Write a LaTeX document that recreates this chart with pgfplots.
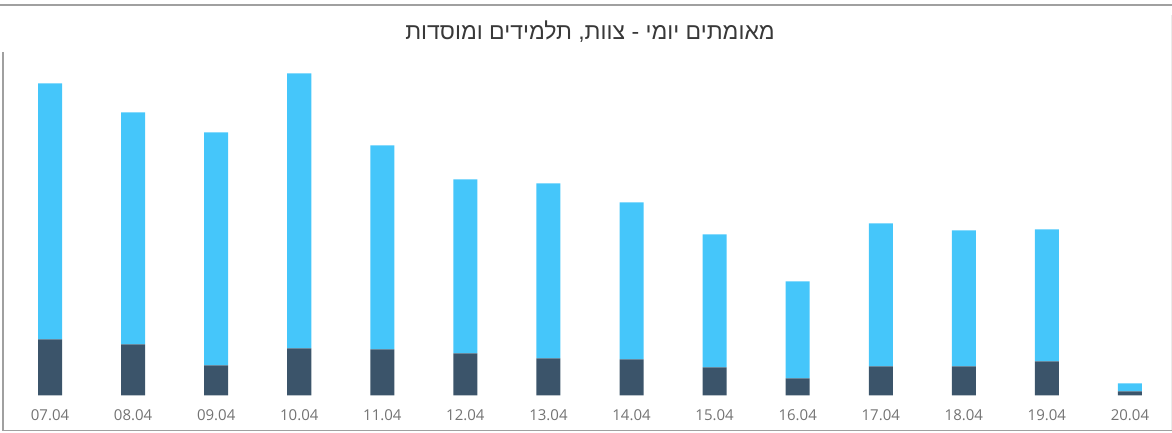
\documentclass[border=0pt]{standalone}
\usepackage{fontspec}
\setmainfont{Open Sans}
\newfontfamily\hebfont[Script=Hebrew]{Liberation Sans}
\TeXXeTstate=1
\usepackage{pgfplots}
\pgfplotsset{compat=1.18}
\definecolor{lightbar}{RGB}{69,198,250}
\definecolor{darkbar}{RGB}{59,84,106}
\definecolor{framegray}{RGB}{160,160,160}
\begin{document}
\begin{tikzpicture}
\useasboundingbox (0pt,0pt) rectangle (1172pt,433pt);
\draw[framegray, line width=2.4pt] (0pt,428pt) -- (1172pt,428pt);
\draw[framegray, line width=1.4pt] (3pt,381pt) -- (3pt,2.5pt) -- (1172pt,2.5pt);
\draw[black!8, line width=1pt] (1171pt,418pt) -- (1171pt,3pt);
\node[font=\hebfont\fontsize{23}{26}\selectfont, text=black!78] at (590pt,401pt) {\beginR מאומתים יומי - צוות, תלמידים ומוסדות\endR};
\begin{axis}[
  at={(8.5pt,37.5pt)}, anchor=south west,
  scale only axis, width=1163pt, height=344pt,
  ymin=0, ymax=344, xmin=-0.5, xmax=13.5,
  enlargelimits=false,
  ybar stacked, bar width=24pt,
  hide y axis,
  axis x line*=bottom, x axis line style={draw=none},
  major tick length=0pt,
  xtick=data,
  xticklabels={07.04,08.04,09.04,10.04,11.04,12.04,13.04,14.04,15.04,16.04,17.04,18.04,19.04,20.04},
  xticklabel style={font=\fontsize{15}{17}\selectfont, text=black!55, yshift=-11pt},
  clip=false,
]
\addplot[fill=darkbar, draw=none] coordinates {
(0,56) (1,51) (2,30) (3,47) (4,46) (5,42) (6,37) (7,36) (8,28) (9,17) (10,29) (11,29) (12,34) (13,4)};
\addplot[fill=lightbar, draw=none] coordinates {
(0,256) (1,232) (2,233) (3,275) (4,204) (5,174) (6,175) (7,157) (8,133) (9,97) (10,143) (11,136) (12,132) (13,8)};
\end{axis}
\end{tikzpicture}
\end{document}
